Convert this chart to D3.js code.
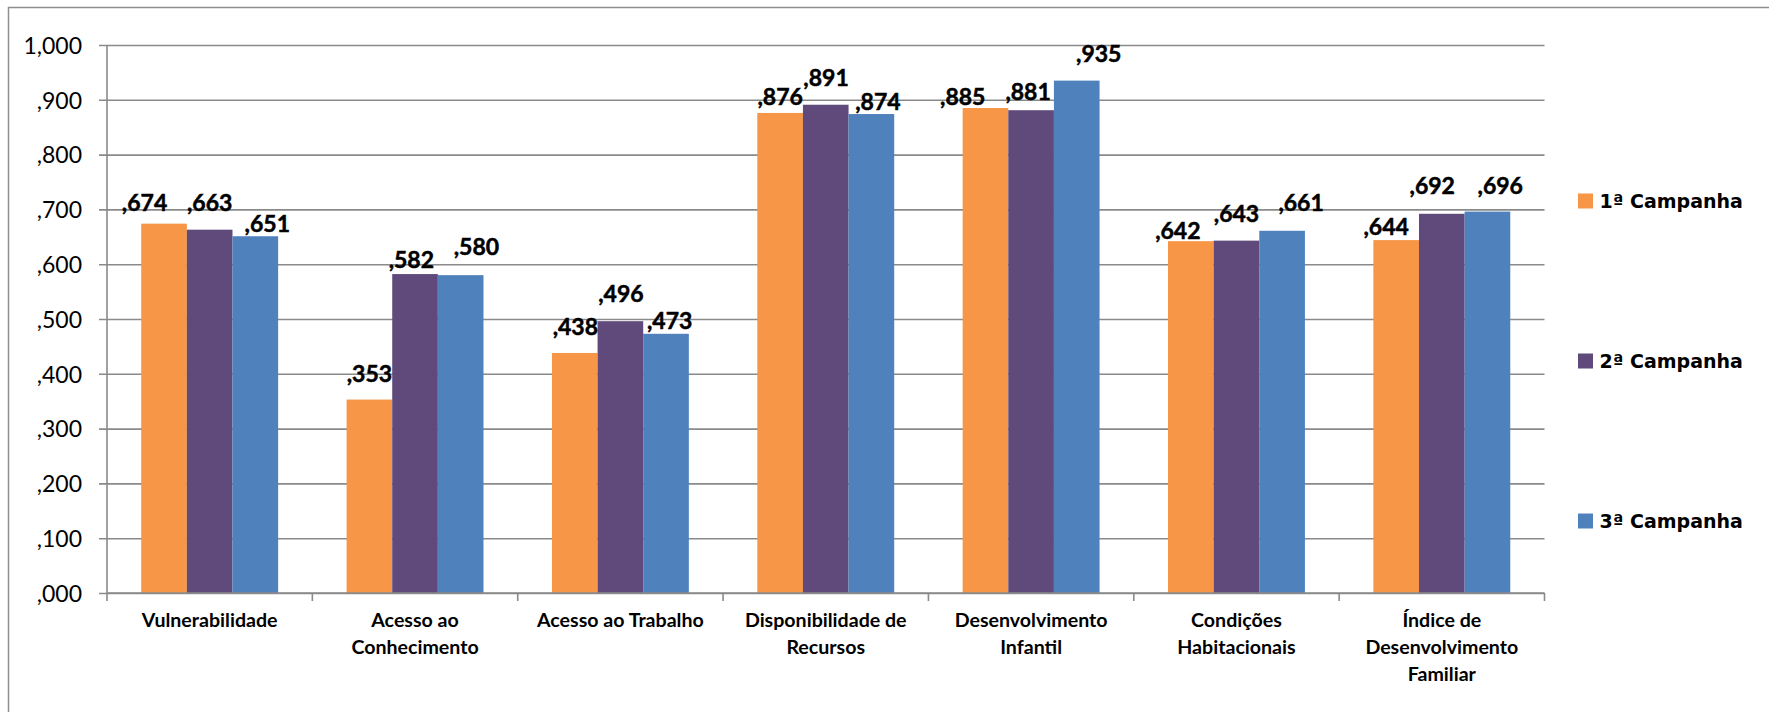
<!DOCTYPE html>
<html>
<head>
<meta charset="utf-8">
<script src="https://cdn.jsdelivr.net/npm/d3@7"></script>
<style>
  html, body { margin: 0; padding: 0; background: #ffffff; }
  svg { display: block; }
</style>
</head>
<body>
<svg id="chart" width="1769" height="712"></svg>
<script>
// ---- data ----
const categories = [
  "Vulnerabilidade",
  "Acesso ao\nConhecimento",
  "Acesso ao Trabalho",
  "Disponibilidade de\nRecursos",
  "Desenvolvimento\nInfantil",
  "Condições\nHabitacionais",
  "Índice de\nDesenvolvimento\nFamiliar"
];
const seriesNames = ["1ª Campanha", "2ª Campanha", "3ª Campanha"];
const campanha1 = [0.674, 0.353, 0.438, 0.876, 0.885, 0.642, 0.644];
const campanha2 = [0.663, 0.582, 0.496, 0.891, 0.881, 0.643, 0.692];
const campanha3 = [0.651, 0.580, 0.473, 0.874, 0.935, 0.661, 0.696];
const yTicks = [0, 0.1, 0.2, 0.3, 0.4, 0.5, 0.6, 0.7, 0.8, 0.9, 1.0];

// ---- styling / layout (not data) ----
const colors = ["#F79646", "#604A7B", "#4F81BD"];
// manual label nudges [dx, gap above bar] per category, per series (as in the reference)
const labelNudge = [
  [[-19.5, 13], [0, 19], [12, 4]],
  [[0, 18], [-3.7, 6], [15.7, 20]],
  [[0.6, 18], [0.5, 19], [3.6, 5]],
  [[0, 7.5], [0.3, 19], [6.5, 3.6]],
  [[-22.7, 2.6], [-3, 10], [22, 18.4]],
  [[-13, 2.6], [0, 19], [19, 19.4]],
  [[-10, 4.8], [-9.6, 20], [12.8, 18]]
];

const series = [campanha1, campanha2, campanha3];
const svg = d3.select("#chart");
const plot = { left: 107, right: 1544.5, top: 45, bottom: 593 };
const gridColor = "#8a8a8a";

const fmt = v => d3.format(".3f")(v).replace(/^0\./, ",").replace(".", ",");

// outer chart frame
svg.append("rect")
  .attr("x", 8.5).attr("y", 7.5)
  .attr("width", 1800).attr("height", 800)
  .attr("fill", "none").attr("stroke", "#8f8f8f").attr("stroke-width", 1.5);

const x = d3.scaleBand().domain(d3.range(categories.length))
  .range([plot.left, plot.right]).paddingInner(0).paddingOuter(0);
const bw = x.bandwidth();
const barW = bw / 4.5;
const xs = d3.scaleBand().domain(d3.range(series.length))
  .range([barW * 0.75, bw - barW * 0.75]).padding(0);
const y = d3.scaleLinear().domain([0, 1]).range([plot.bottom, plot.top]);

// gridlines + y tick labels
const yAxis = d3.axisLeft(y).tickValues(yTicks)
  .tickSize(-(plot.right - plot.left + 8)).tickFormat(fmt).tickPadding(0);
const gy = svg.append("g").attr("transform", `translate(${plot.left - 8},0)`).call(yAxis);
gy.select(".domain").remove();
gy.selectAll(".tick line").attr("stroke", gridColor).attr("stroke-width", 1.6);
gy.selectAll(".tick text")
  .attr("x", -17)
  .attr("dy", "0.36em")
  .attr("fill", "#000")
  .style("font-family", "Lato, sans-serif")
  .style("font-size", "23px");

// bars
series.forEach((vals, s) => {
  svg.append("g").selectAll("rect").data(vals).join("rect")
    .attr("x", (d, i) => x(i) + xs(s))
    .attr("y", d => y(d))
    .attr("width", xs.bandwidth())
    .attr("height", d => y(0) - y(d))
    .attr("fill", colors[s]);
});

// y axis line
svg.append("line")
  .attr("x1", plot.left).attr("x2", plot.left)
  .attr("y1", plot.top).attr("y2", plot.bottom)
  .attr("stroke", gridColor).attr("stroke-width", 1.6);

// x axis line and boundary ticks
const boundaries = d3.range(categories.length + 1).map(i => i < categories.length ? x(i) : plot.right);
svg.append("line")
  .attr("x1", plot.left).attr("x2", plot.right)
  .attr("y1", y(0)).attr("y2", y(0))
  .attr("stroke", gridColor).attr("stroke-width", 1.6);
svg.append("g").selectAll("line").data(boundaries).join("line")
  .attr("x1", d => d).attr("x2", d => d)
  .attr("y1", y(0)).attr("y2", y(0) + 8)
  .attr("stroke", gridColor).attr("stroke-width", 1.6);

// category labels
const catG = svg.append("g");
categories.forEach((c, i) => {
  const t = catG.append("text")
    .attr("text-anchor", "middle")
    .attr("x", x(i) + bw / 2)
    .attr("y", y(0) + 34.3)
    .attr("fill", "#000")
    .style("font-family", "Lato, sans-serif")
    .style("font-weight", "700")
    .style("font-size", "19.6px");
  c.split("\n").forEach((line, k) => {
    t.append("tspan").attr("x", x(i) + bw / 2).attr("dy", k === 0 ? 0 : 26.7).text(line);
  });
});

// data labels
series.forEach((vals, s) => {
  svg.append("g").selectAll("text").data(vals).join("text")
    .attr("text-anchor", "middle")
    .attr("x", (d, i) => x(i) + xs(s) + xs.bandwidth() / 2 + labelNudge[i][s][0])
    .attr("y", (d, i) => y(d) - labelNudge[i][s][1])
    .attr("fill", "#000")
    .attr("stroke", "#000")
    .attr("stroke-width", 0.5)
    .style("font-family", "Lato, sans-serif")
    .style("font-weight", "700")
    .style("font-size", "23px")
    .text(d => fmt(d));
});

// legend
const legendY = [201, 361, 521];
const lg = svg.append("g");
seriesNames.forEach((n, s) => {
  lg.append("rect")
    .attr("x", 1578).attr("y", legendY[s] - 7.5)
    .attr("width", 15).attr("height", 15)
    .attr("fill", colors[s]);
  lg.append("text")
    .attr("x", 1599.5).attr("y", legendY[s])
    .attr("dy", "0.35em")
    .attr("fill", "#000")
    .style("font-family", "'DejaVu Sans', sans-serif")
    .style("font-weight", "700")
    .style("font-size", "19px")
    .text(n);
});
</script>
</body>
</html>
